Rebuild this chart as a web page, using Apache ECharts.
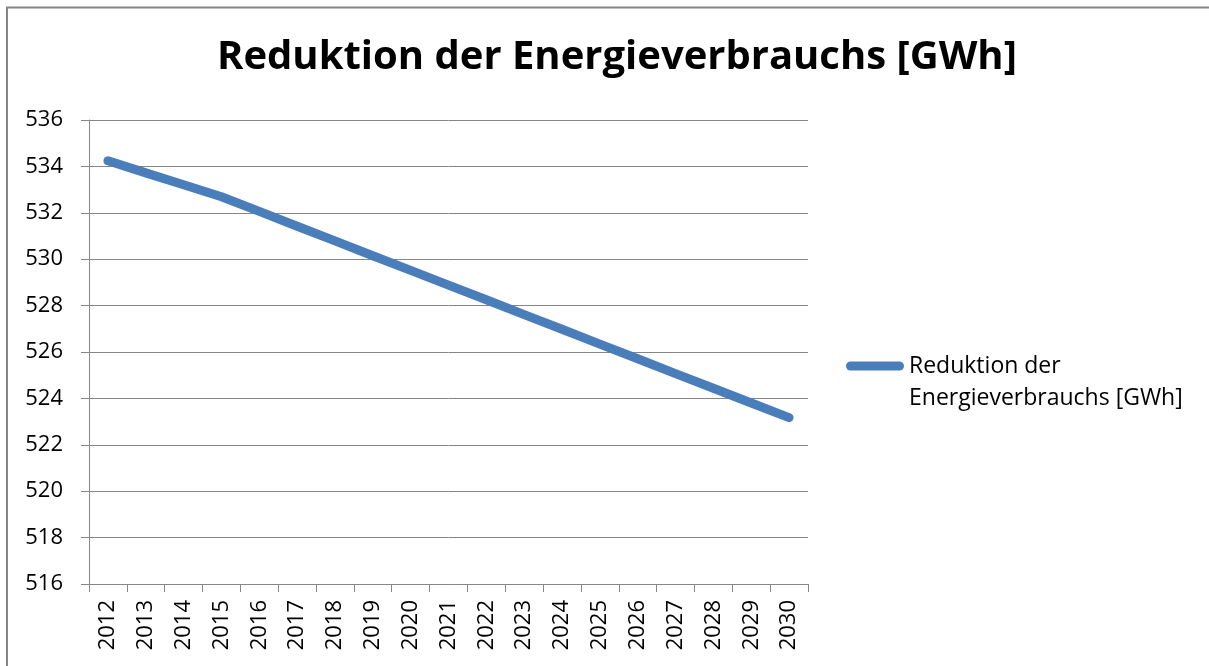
<!DOCTYPE html>
<html>
<head>
<meta charset="utf-8">
<title>Reduktion der Energieverbrauchs</title>
<script src="https://cdn.jsdelivr.net/npm/echarts@6/dist/echarts.min.js"></script>
<style>
  html, body { margin: 0; padding: 0; background: #fff; }
  #chart { width: 1209px; height: 666px; }
</style>
</head>
<body>
<div id="chart"></div>
<script>
// Jahre (x-Achse)
const years = ['2012', '2013', '2014', '2015', '2016', '2017', '2018', '2019', '2020', '2021',
  '2022', '2023', '2024', '2025', '2026', '2027', '2028', '2029', '2030']
// Energieverbrauch in GWh
const consumption = [534.24, 533.72, 533.21, 532.69, 532.06, 531.42, 530.79, 530.15, 529.52, 528.88,
  528.25, 527.61, 526.98, 526.34, 525.71, 525.07, 524.44, 523.80, 523.17]
const seriesName = 'Reduktion der Energieverbrauchs [GWh]'
const yMin = 516
const yMax = 536
const yStep = 2

const font = '"Open Sans", "Liberation Sans", sans-serif'
const gray = '#868686'
const blue = '#4a7ebb'

const chart = echarts.init(document.getElementById('chart'))
chart.setOption({
  animation: false,
  textStyle: { fontFamily: font },
  title: {
    text: seriesName,
    left: 212,
    top: 33,
    textStyle: { fontFamily: font, fontWeight: 'bold', fontSize: 40, color: '#000' }
  },
  legend: {
    show: true,
    orient: 'vertical',
    left: 841,
    top: 313,
    // dicke Linie mit runden Enden
    icon: 'path://M4.5,0 L53.5,0 A4.5,4.5 0 0 1 53.5,9 L4.5,9 A4.5,4.5 0 0 1 4.5,0 Z',
    itemWidth: 58,
    itemHeight: 9,
    itemStyle: { color: blue },
    // leere erste Zeile, damit die erste Textzeile neben der Linie steht
    formatter: function () { return ' \nReduktion der\nEnergieverbrauchs [GWh]' },
    textStyle: { fontFamily: font, fontSize: 23, color: '#000', lineHeight: 32 },
    data: [seriesName]
  },
  grid: { left: 89, right: 401, top: 120, bottom: 82, containLabel: false },
  xAxis: {
    type: 'category',
    data: years,
    boundaryGap: true,
    axisLine: { lineStyle: { color: gray, width: 1 } },
    axisTick: { show: true, length: 8, inside: false, lineStyle: { color: gray } },
    axisLabel: { rotate: 90, margin: 16, fontSize: 22, color: '#000', fontFamily: font, interval: 0 },
    splitLine: { show: false }
  },
  yAxis: {
    type: 'value',
    min: yMin,
    max: yMax,
    interval: yStep,
    axisLine: { show: true, lineStyle: { color: gray, width: 1 } },
    axisTick: { show: true, length: 8, lineStyle: { color: gray } },
    axisLabel: { margin: 26, fontSize: 22, color: '#000', fontFamily: font },
    splitLine: { show: true, lineStyle: { color: gray, width: 1 } }
  },
  series: [
    {
      name: seriesName,
      type: 'line',
      data: consumption,
      showSymbol: false,
      symbol: 'none',
      lineStyle: { color: blue, width: 9, cap: 'round', join: 'round' },
      itemStyle: { color: blue }
    }
  ],
  graphic: [
    {
      type: 'polyline',
      silent: true,
      shape: { points: [[7, 680], [7, 7.5], [1220, 7.5]] },
      style: { stroke: gray, lineWidth: 2, fill: null }
    }
  ]
})
</script>
</body>
</html>
